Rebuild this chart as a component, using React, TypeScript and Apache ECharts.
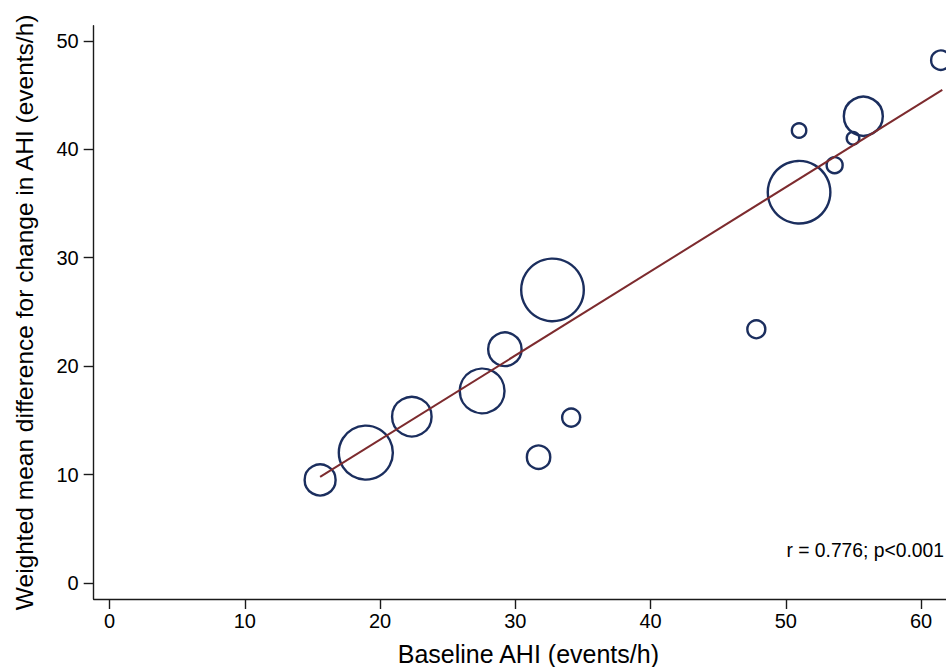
import React, { useEffect, useRef } from "react";
import * as echarts from "echarts";

// Baseline AHI (events/h) for each study
const baselineAHI = [15.57, 18.95, 22.35, 27.55, 29.23, 32.75, 34.13, 31.72, 50.98, 53.61, 55.73, 54.97, 50.98, 61.46, 47.82];
// Weighted mean difference for change in AHI (events/h)
const meanDiff = [9.5, 12.02, 15.34, 17.71, 21.56, 27.03, 15.25, 11.6, 36.04, 38.53, 43.05, 41.02, 41.73, 48.22, 23.4];
// Study weights (bubble area)
const studyWeight = [24, 73, 39, 50, 28, 98, 8.1, 13.7, 98, 6.4, 38, 4, 5.2, 9.4, 8.1];

// Fitted regression line end points
const fitX = [15.57, 61.57];
const fitY = [9.78, 45.48];

const xTicks = [0, 10, 20, 30, 40, 50, 60];
const yTicks = [0, 10, 20, 30, 40, 50];

const annotation = "r = 0.776; p<0.001";

const FONT = "'Liberation Sans', Arial, Helvetica, sans-serif";
const NAVY = "#1b2e5e";
const MAROON = "#7d2b2e";
const AXIS = "#1a1a1a";

export default function App() {
  const ref = useRef<HTMLDivElement>(null);

  useEffect(() => {
    if (!ref.current) return;
    const chart = echarts.init(ref.current, undefined, { renderer: "svg" });

    const bubbles = baselineAHI.map((x, i) => [x, meanDiff[i], studyWeight[i]]);
    const fit = fitX.map((x, i) => [x, fitY[i]]);

    chart.setOption({
      animation: false,
      backgroundColor: "#ffffff",
      grid: { left: 93.7, top: 25.7, right: 0, bottom: 68, containLabel: false, outerBoundsMode: "none" },
      xAxis: {
        type: "value",
        min: -1.17,
        max: 63.1,
        name: "Baseline AHI (events/h)",
        nameLocation: "middle",
        nameGap: 42,
        nameTextStyle: { fontSize: 25, fontFamily: FONT, color: "#000" },
        axisLine: { show: true, onZero: false, lineStyle: { color: AXIS, width: 1.4 } },
        axisTick: { show: true, length: 10, lineStyle: { color: AXIS, width: 1.4 }, customValues: xTicks },
        axisLabel: { fontSize: 20, fontFamily: FONT, color: "#000", margin: 12, customValues: xTicks },
        splitLine: { show: false },
      },
      yAxis: {
        type: "value",
        min: -1.48,
        max: 51.4,
        name: "Weighted mean difference for change in AHI (events/h)",
        nameLocation: "middle",
        nameGap: 57,
        nameTextStyle: { fontSize: 24.5, fontFamily: FONT, color: "#000" },
        axisLine: { show: true, onZero: false, lineStyle: { color: AXIS, width: 1.4 } },
        axisTick: { show: true, length: 10, lineStyle: { color: AXIS, width: 1.4 }, customValues: yTicks },
        axisLabel: { fontSize: 20, fontFamily: FONT, color: "#000", margin: 15, customValues: yTicks },
        splitLine: { show: false },
      },
      series: [
        {
          type: "scatter",
          data: bubbles,
          symbol: "circle",
          symbolSize: (v: number[]) => 2 * Math.sqrt(v[2] * 10),
          clip: false,
          itemStyle: { color: "rgba(255,255,255,0)", borderColor: NAVY, borderWidth: 2.4, opacity: 1 },
          emphasis: { disabled: true },
          z: 2,
        },
        {
          type: "line",
          data: fit,
          showSymbol: false,
          symbol: "none",
          lineStyle: { color: MAROON, width: 2 },
          emphasis: { disabled: true },
          z: 3,
        },
      ],
      graphic: [
        {
          type: "text",
          x: 944,
          y: 550,
          style: {
            text: annotation,
            font: `19.3px ${FONT}`,
            fill: "#000",
            align: "right",
            verticalAlign: "middle",
          },
        },
      ],
    });

    return () => chart.dispose();
  }, []);

  return (
    <div style={{ position: "fixed", left: 0, top: 0, width: 946, height: 667, overflow: "hidden", background: "#fff" }}>
      <div ref={ref} style={{ position: "absolute", left: 0, top: 0, width: 963, height: 667 }} />
    </div>
  );
}
